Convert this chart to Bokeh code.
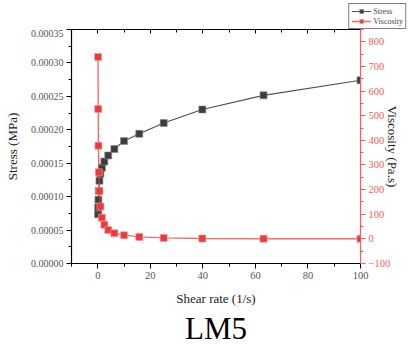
from bokeh.plotting import figure
from bokeh.layouts import column, row
from bokeh.models import (Range1d, LinearAxis, SingleIntervalTicker, PrintfTickFormatter,
                          Legend, LegendItem, Title, ColumnDataSource, CustomJSTickFormatter,
                          Spacer)
from bokeh.embed import file_html
from bokeh.resources import INLINE

# Data
shear_rate = [0.1, 0.158, 0.251, 0.398, 0.631, 1.0, 1.58, 2.51, 3.98, 6.31,
              10.0, 15.8, 25.1, 39.8, 63.1, 100.0, 158.0]
stress_mpa = [0.0000737, 0.0000838, 0.0000955, 0.0001086, 0.0001238, 0.0001344,
              0.0001434, 0.0001525, 0.0001616, 0.0001712, 0.0001833, 0.000194,
              0.000210, 0.0002303, 0.0002515, 0.000274, 0.000299]
viscosity = [738, 527, 378, 270, 194, 131, 86, 57.5, 36, 23,
             15, 8, 4, 1.3, 0.6, 0.3, 0.2]

x_ticks_interval = 20
chart_title = "LM5"
x_label = "Shear rate (1/s)"
y_label = "Stress (MPa)"
y2_label = "Viscosity (Pa.s)"
series_names = ["Stress", "Viscosity"]

SERIF = "Liberation Serif"
BLACK_S = "#3d3d3d"
BLACK_L = "#505050"
RED = "#ec3b3b"
RED_AX = "#f25c5c"

src = ColumnDataSource(dict(x=shear_rate, s=stress_mpa, v=viscosity))

p = figure(width=409, height=316, output_backend="svg", toolbar_location=None,
           x_range=Range1d(-10, 100), y_range=Range1d(0, 0.00035),
           min_border_left=71, min_border_right=49, min_border_top=0,
           min_border_bottom=10, background_fill_color="white",
           border_fill_color="white")
p.xgrid.visible = False
p.ygrid.visible = False
p.outline_line_color = "black"
p.outline_line_width = 1

p.extra_y_ranges = {"visc": Range1d(-100, 850)}

def style_axis(ax, color, label_color):
    ax.axis_line_color = color
    ax.axis_line_width = 1.2
    ax.major_tick_line_color = color
    ax.minor_tick_line_color = color
    ax.major_tick_out = 5
    ax.major_tick_in = 0
    ax.minor_tick_out = 3
    ax.minor_tick_in = 0
    ax.major_label_text_font = SERIF
    ax.major_label_text_font_size = "10.5px"
    ax.major_label_text_color = label_color
    ax.major_label_standoff = 3
    ax.axis_label_text_font = SERIF
    ax.axis_label_text_font_size = "13px"
    ax.axis_label_text_font_style = "normal"
    ax.axis_label_text_color = "#222222"

# bottom axis
xa = p.xaxis[0]
xa.ticker = SingleIntervalTicker(interval=x_ticks_interval, num_minor_ticks=2)
xa.axis_label = x_label
style_axis(xa, "black", "#555555")
xa.axis_label_standoff = 9

# left axis
ya = p.yaxis[0]
ya.ticker = SingleIntervalTicker(interval=0.00005, num_minor_ticks=2)
ya.formatter = PrintfTickFormatter(format="%.5f")
ya.axis_label = y_label
style_axis(ya, "black", "#555555")
ya.major_label_text_font_size = "10px"
ya.axis_label_standoff = 8

# right axis
ra = LinearAxis(y_range_name="visc", axis_label=y2_label,
                ticker=SingleIntervalTicker(interval=100, num_minor_ticks=2))
style_axis(ra, RED_AX, RED_AX)
ra.axis_label_standoff = -8
p.add_layout(ra, "right")

# top axis (ticks only)
ta = LinearAxis(ticker=SingleIntervalTicker(interval=x_ticks_interval, num_minor_ticks=2),
                formatter=CustomJSTickFormatter(code="return ''"))
ta.axis_line_color = "black"
ta.axis_line_width = 1.2
ta.major_tick_in = 4
ta.major_tick_out = 0
ta.minor_tick_in = 3
ta.minor_tick_out = 0
ta.major_label_standoff = 0
p.add_layout(ta, "above")

# series
p.line("x", "s", source=src, line_color=BLACK_L, line_width=1.1)
p.scatter("x", "s", source=src, marker="square", size=7,
          fill_color=BLACK_S, line_color="#8a8a8a", line_width=0.6)
p.line("x", "v", source=src, y_range_name="visc", line_color=RED,
       line_alpha=0.75, line_width=1.4)
p.scatter("x", "v", source=src, y_range_name="visc", marker="square", size=7,
          fill_color=RED, line_color="#f59a9a", line_width=0.6)

t = Title(text=chart_title, align="center", text_font=SERIF,
          text_font_size="31px", text_font_style="normal", text_color="black",
          standoff=0)
p.add_layout(t, "below")

# legend box above the plot's right corner; its renderers use the same data,
# but the y range below zero keeps them out of view, only the legend shows
lg = figure(width=67, height=29, output_backend="svg", toolbar_location=None,
            x_range=Range1d(-10, 100), y_range=Range1d(-2, -1),
            x_axis_type=None, y_axis_type=None,
            min_border_left=0, min_border_right=0, min_border_top=0, min_border_bottom=0,
            outline_line_color=None, background_fill_color="white",
            border_fill_color="white")
lg.xgrid.visible = False
lg.ygrid.visible = False
el1 = lg.line("x", "s", source=src, line_color=BLACK_L, line_width=1.1)
es1 = lg.scatter("x", "s", source=src, marker="square", size=7,
                 fill_color=BLACK_S, line_color="#8a8a8a", line_width=0.6)
el2 = lg.line("x", "v", source=src, line_color=RED, line_alpha=0.75, line_width=1.4)
es2 = lg.scatter("x", "v", source=src, marker="square", size=7,
                 fill_color=RED, line_color="#f59a9a", line_width=0.6)

legend = Legend(items=[LegendItem(label=series_names[0], renderers=[el1, es1]),
                       LegendItem(label=series_names[1], renderers=[el2, es2])],
                location="top_right")
legend.label_text_font = SERIF
legend.label_text_font_size = "8px"
legend.label_height = 10
legend.glyph_height = 10
legend.glyph_width = 20
legend.label_standoff = 2
legend.padding = 2
legend.spacing = 0
legend.margin = 3
legend.border_line_color = "black"
legend.border_line_width = 1
legend.background_fill_color = "white"
legend.background_fill_alpha = 1
lg.add_layout(legend, "center")

top = row(Spacer(width=342, height=29), lg, spacing=0)
layout = column(top, p, spacing=0)
open("out.html", "w").write(file_html(layout, INLINE))
